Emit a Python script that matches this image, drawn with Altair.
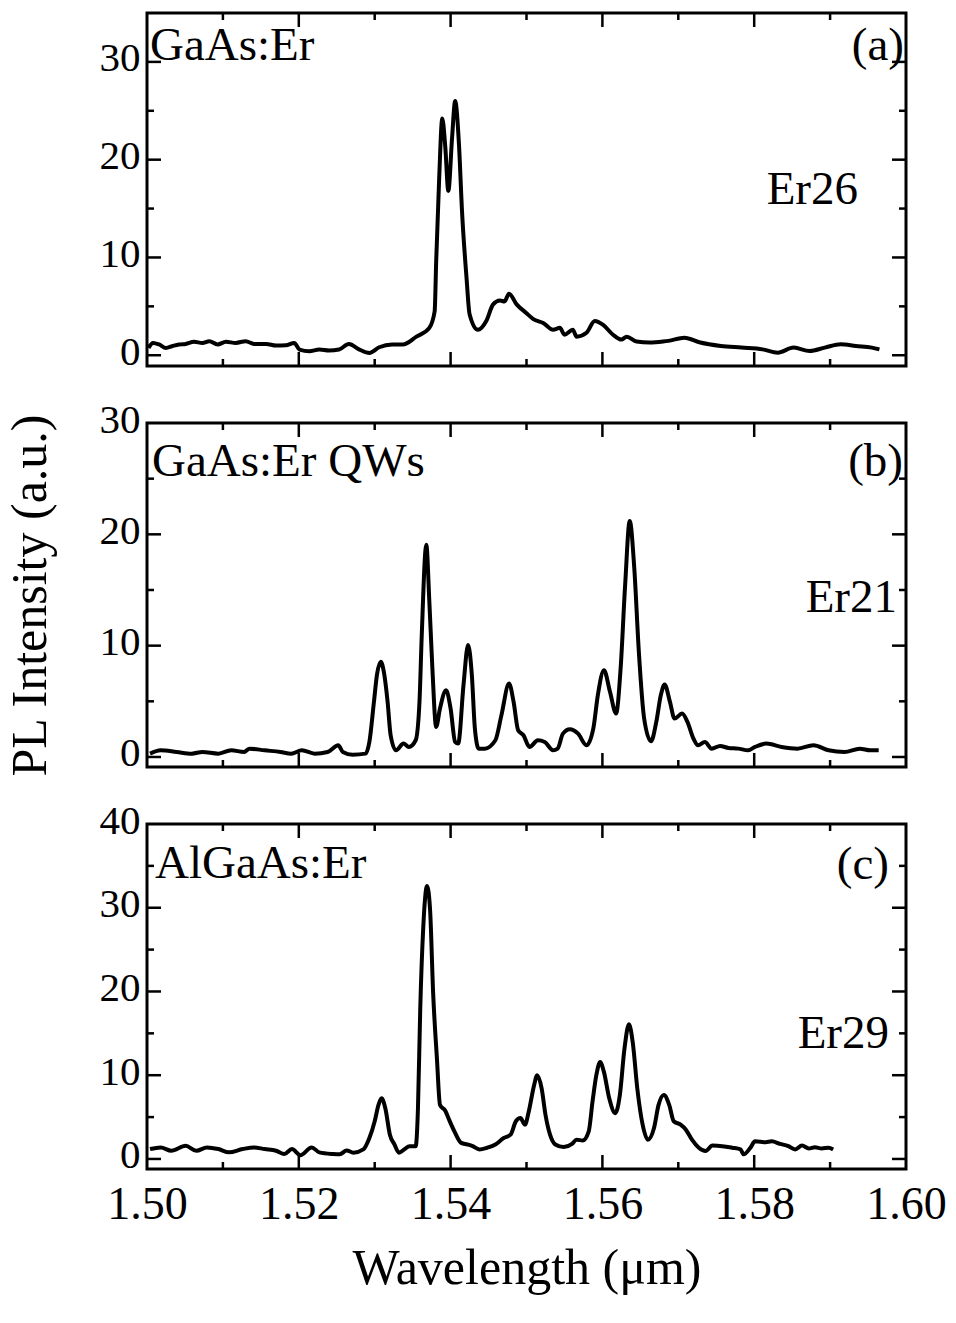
import altair as alt
import pandas as pd

FONT = "Liberation Serif"

# ---- spectra (wavelength in um, PL intensity in a.u.) ----
a_wl = [1.5002, 1.5008, 1.5016, 1.5025, 1.5033, 1.5042, 1.5051, 1.5062, 1.5073, 1.5082,
        1.5093, 1.5104, 1.5117, 1.5130, 1.5141, 1.5157, 1.5170, 1.5183, 1.5194, 1.5201,
        1.5214, 1.5227, 1.5240, 1.5253, 1.5266, 1.5280, 1.5293, 1.5306, 1.5323, 1.5337,
        1.5355, 1.5372, 1.5379, 1.5381, 1.5385, 1.5389, 1.5393, 1.5397, 1.5402, 1.5406,
        1.5411, 1.5415, 1.5421, 1.5425, 1.5436, 1.5447, 1.5456, 1.5465, 1.5471, 1.5477,
        1.5487, 1.5500, 1.5509, 1.5522, 1.5535, 1.5544, 1.5550, 1.5561, 1.5566, 1.5579,
        1.5590, 1.5601, 1.5614, 1.5625, 1.5632, 1.5645, 1.5662, 1.5680, 1.5687, 1.5708,
        1.5729, 1.5756, 1.5783, 1.5811, 1.5831, 1.5852, 1.5873, 1.5893, 1.5914, 1.5934,
        1.5955, 1.5965]
a_pl = [0.75, 1.26, 1.10, 0.75, 0.92, 1.10, 1.16, 1.37, 1.26, 1.44,
        1.10, 1.37, 1.26, 1.44, 1.16, 1.16, 1.00, 1.03, 1.26, 0.58,
        0.41, 0.58, 0.48, 0.58, 1.16, 0.58, 0.24, 0.82, 1.10, 1.10,
        1.90, 2.80, 4.50, 9.60, 18.2, 24.2, 21.3, 16.8, 22.3, 26.0,
        21.6, 14.8, 7.90, 4.20, 2.60, 3.50, 5.20, 5.60, 5.50, 6.30,
        5.20, 4.30, 3.70, 3.30, 2.60, 2.80, 2.10, 2.60, 1.90, 2.30,
        3.50, 3.10, 2.10, 1.60, 1.90, 1.40, 1.30, 1.40, 1.47, 1.80,
        1.30, 0.95, 0.78, 0.60, 0.26, 0.78, 0.43, 0.78, 1.13, 0.95,
        0.78, 0.60]

b_wl = [1.5004, 1.5018, 1.5039, 1.5059, 1.5073, 1.5094, 1.5111, 1.5128, 1.5135, 1.5155,
        1.5176, 1.5190, 1.5204, 1.5221, 1.5238, 1.5252, 1.5258, 1.5271, 1.5288, 1.5293,
        1.5299, 1.5303, 1.5308, 1.5312, 1.5317, 1.5321, 1.5328, 1.5338, 1.5345, 1.5354,
        1.5359, 1.5362, 1.5368, 1.5372, 1.5376, 1.5381, 1.5386, 1.5394, 1.5400, 1.5406,
        1.5410, 1.5417, 1.5423, 1.5428, 1.5432, 1.5437, 1.5445, 1.5459, 1.5467, 1.5477,
        1.5483, 1.5489, 1.5496, 1.5504, 1.5515, 1.5524, 1.5535, 1.5541, 1.5548, 1.5557,
        1.5568, 1.5579, 1.5588, 1.5594, 1.5602, 1.5610, 1.5618, 1.5624, 1.5630, 1.5636,
        1.5642, 1.5648, 1.5655, 1.5664, 1.5671, 1.5677, 1.5682, 1.5689, 1.5695, 1.5705,
        1.5712, 1.5720, 1.5726, 1.5735, 1.5744, 1.5755, 1.5766, 1.5779, 1.5792, 1.5801,
        1.5816, 1.5836, 1.5857, 1.5878, 1.5898, 1.5919, 1.5939, 1.5953, 1.5964]
b_pl = [0.30, 0.60, 0.45, 0.30, 0.45, 0.30, 0.60, 0.45, 0.75, 0.60,
        0.45, 0.30, 0.60, 0.30, 0.45, 1.05, 0.45, 0.20, 0.30, 1.35,
        4.95, 7.40, 8.56, 7.66, 4.95, 1.95, 0.60, 1.20, 0.90, 1.50,
        4.95, 10.96, 19.07, 13.96, 7.95, 2.70, 4.35, 6.00, 4.35, 1.35,
        1.20, 6.46, 10.06, 7.36, 2.55, 0.75, 0.75, 1.50, 3.76, 6.60,
        4.95, 2.40, 1.95, 0.90, 1.50, 1.35, 0.60, 0.75, 2.10, 2.50,
        2.10, 1.05, 2.55, 5.56, 7.80, 5.86, 3.90, 7.95, 15.5, 21.2,
        16.96, 9.46, 3.45, 1.41, 3.15, 5.56, 6.50, 4.95, 3.45, 3.90,
        3.15, 1.65, 1.05, 1.35, 0.75, 0.99, 0.81, 0.75, 0.60, 0.90,
        1.20, 0.90, 0.75, 1.05, 0.60, 0.45, 0.75, 0.60, 0.60]

c_wl = [1.5004, 1.5018, 1.5032, 1.5051, 1.5065, 1.5079, 1.5094, 1.5108, 1.5126, 1.5141,
        1.5155, 1.5170, 1.5181, 1.5191, 1.5202, 1.5217, 1.5227, 1.5245, 1.5254, 1.5263,
        1.5272, 1.5285, 1.5293, 1.5300, 1.5305, 1.5309, 1.5314, 1.5320, 1.5326, 1.5332,
        1.5339, 1.5346, 1.5354, 1.5357, 1.5360, 1.5364, 1.5369, 1.5373, 1.5377, 1.5382,
        1.5386, 1.5393, 1.5398, 1.5405, 1.5414, 1.5422, 1.5429, 1.5438, 1.5448, 1.5459,
        1.5470, 1.5479, 1.5486, 1.5492, 1.5498, 1.5503, 1.5510, 1.5514, 1.5520, 1.5525,
        1.5531, 1.5538, 1.5549, 1.5560, 1.5566, 1.5574, 1.5582, 1.5587, 1.5592, 1.5597,
        1.5602, 1.5609, 1.5617, 1.5623, 1.5629, 1.5635, 1.5640, 1.5646, 1.5653, 1.5660,
        1.5668, 1.5674, 1.5681, 1.5688, 1.5694, 1.5703, 1.5710, 1.5718, 1.5727, 1.5736,
        1.5745, 1.5758, 1.5771, 1.5782, 1.5786, 1.5795, 1.5801, 1.5815, 1.5823, 1.5834,
        1.5845, 1.5854, 1.5863, 1.5872, 1.5880, 1.5889, 1.5898, 1.5904]
c_pl = [1.18, 1.38, 0.98, 1.57, 0.98, 1.38, 1.18, 0.79, 1.18, 1.38,
        1.18, 0.98, 0.59, 1.18, 0.45, 1.38, 0.79, 0.59, 0.55, 1.02,
        0.75, 1.14, 2.50, 4.50, 6.46, 7.24, 6.06, 2.90, 1.73, 0.75,
        1.14, 1.53, 1.53, 6.06, 17.9, 27.7, 32.6, 29.7, 19.8, 11.96,
        6.46, 5.75, 4.69, 3.30, 1.92, 1.73, 1.53, 1.14, 1.34, 1.73,
        2.50, 2.90, 4.50, 4.88, 4.10, 5.67, 8.80, 10.0, 8.40, 5.28,
        2.90, 1.73, 1.42, 1.80, 2.30, 2.20, 3.30, 6.85, 10.0, 11.57,
        10.4, 7.24, 5.47, 7.64, 13.1, 16.1, 13.9, 8.40, 4.10, 2.30,
        3.70, 6.46, 7.64, 6.46, 4.50, 4.10, 3.50, 2.30, 1.34, 0.94,
        1.60, 1.53, 1.34, 1.14, 0.55, 1.34, 2.10, 2.00, 2.10, 1.80,
        1.53, 1.14, 1.60, 1.26, 1.40, 1.26, 1.34, 1.14]

# ---- axis tick positions ----
x_major = [1.50, 1.52, 1.54, 1.56, 1.58, 1.60]
x_major_inner = [1.52, 1.54, 1.56, 1.58]
x_minor = [1.51, 1.53, 1.55, 1.57, 1.59]

W = 759
XSCALE = alt.Scale(domain=[1.50, 1.60], nice=False, zero=False)
MAJ, MIN = 14, 7


def tick_rules(vals, scale, axis, field_ch, length, H):
    """Inward-pointing frame ticks drawn as rules on all four sides."""
    d = pd.DataFrame({"v": vals})
    base = alt.Chart(d).mark_rule(color="black", strokeWidth=2.5)
    if field_ch == "x":
        enc = alt.X("v:Q", scale=scale, axis=axis)
        return [
            base.encode(x=enc, y=alt.value(H), y2=alt.value(H - length)),
            base.encode(x=enc, y=alt.value(0), y2=alt.value(length)),
        ]
    enc = alt.Y("v:Q", scale=scale, axis=axis)
    return [
        base.encode(y=enc, x=alt.value(0), x2=alt.value(length)),
        base.encode(y=enc, x=alt.value(W), x2=alt.value(W - length)),
    ]


def label(text, x, y, align):
    return alt.Chart(pd.DataFrame({"t": [text]})).mark_text(
        font=FONT, fontSize=47, color="black", align=align, baseline="middle"
    ).encode(x=alt.value(x), y=alt.value(y), text="t:N")


def panel(wl, pl, ydom, ylabels, ymaj, ymin, H, texts, bottom=False, ytitle=False):
    yscale = alt.Scale(domain=ydom, nice=False, zero=False)
    xaxis_kw = dict(values=x_major, format=".2f", labels=bottom, ticks=False, tickSize=0,
                    domain=False, grid=False, labelPadding=13, labelFlush=False)
    if bottom:
        xaxis_kw.update(title="Wavelength (μm)", titlePadding=16)
    else:
        xaxis_kw.update(title="")
    yaxis_kw = dict(values=ylabels, ticks=False, tickSize=0, domain=False, grid=False,
                    labelPadding=7, labelFlush=False, labelFontSize=41, labelOffset=-3)
    if ytitle:
        yaxis_kw.update(title="PL Intensity (a.u.)", titlePadding=44)
    else:
        yaxis_kw.update(title="")
    xaxis = alt.Axis(**xaxis_kw)
    yaxis = alt.Axis(**yaxis_kw)
    df = pd.DataFrame({"wl": wl, "pl": pl})
    line = alt.Chart(df).mark_line(
        color="black", strokeWidth=4, strokeJoin="round", interpolate="monotone"
    ).encode(
        x=alt.X("wl:Q", scale=XSCALE, axis=xaxis),
        y=alt.Y("pl:Q", scale=yscale, axis=yaxis),
    )
    layers = [line]
    layers += tick_rules(x_major_inner, XSCALE, xaxis, "x", MAJ, H)
    layers += tick_rules(x_minor, XSCALE, xaxis, "x", MIN, H)
    layers += tick_rules(ymaj, yscale, yaxis, "y", MAJ, H)
    layers += tick_rules(ymin, yscale, yaxis, "y", MIN, H)
    layers += [label(*t) for t in texts]
    return alt.layer(*layers).properties(width=W, height=H)


pa = panel(a_wl, a_pl, [-1.1, 35], [0, 10, 20, 30], [0, 10, 20, 30], [5, 15, 25], 353,
           [("GaAs:Er", 3, 33, "left"), ("(a)", 757, 33, "right"), ("Er26", 711, 177, "right")])
pb = panel(b_wl, b_pl, [-0.9, 30], [0, 10, 20, 30], [0, 10, 20], [5, 15, 25], 344,
           [("GaAs:Er QWs", 5, 39, "left"), ("(b)", 756, 39, "right"), ("Er21", 750, 175, "right")],
           ytitle=True)
pc = panel(c_wl, c_pl, [-1.2, 40], [0, 10, 20, 30, 40], [0, 10, 20, 30], [5, 15, 25, 35], 345,
           [("AlGaAs:Er", 8, 40, "left"), ("(c)", 742, 41, "right"), ("Er29", 742, 210, "right")],
           bottom=True)

chart = alt.vconcat(pa, pb, pc, spacing=57, bounds="flush").properties(
    padding={"left": 3, "top": 10, "right": 0, "bottom": 0}
).configure_view(stroke="black", strokeWidth=3).configure_axis(
    labelFont=FONT, titleFont=FONT, labelFontSize=46, titleFontSize=50,
    labelColor="black", titleColor="black", titleFontWeight="normal"
)

chart.save("out.html", embed_options={"renderer": "svg", "actions": False})
